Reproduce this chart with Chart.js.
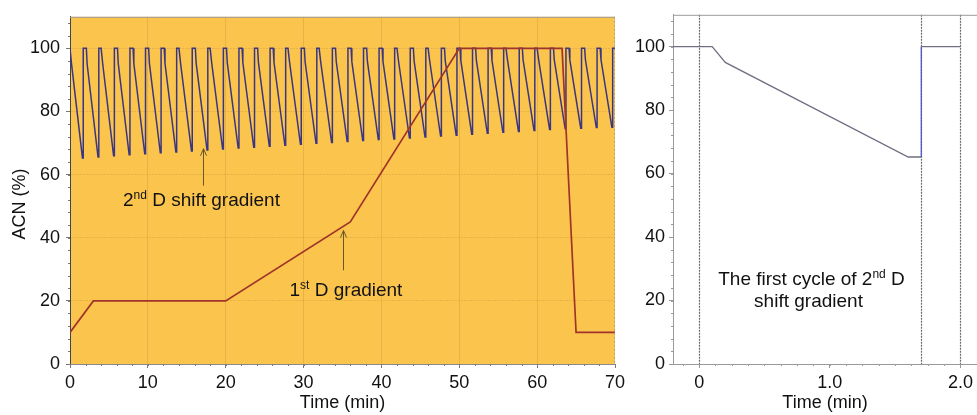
<!DOCTYPE html>
<html>
<head>
<meta charset="utf-8">
<script src="https://cdn.jsdelivr.net/npm/chart.js@4.4.1/dist/chart.umd.min.js"></script>
<style>
    html, body { margin: 0; padding: 0; background: #fff; }
    #wrap { position: relative; width: 977px; height: 415px; overflow: hidden; }
    canvas { position: absolute; top: 0; }
    #leftChart { left: 0; }
    #rightChart { left: 620px; }
</style>
</head>
<body>
<div id="wrap">
    <canvas id="leftChart" width="640" height="415"></canvas>
    <canvas id="rightChart" width="357" height="415"></canvas>
</div>
<script>
// 1st D gradient over the whole run
const firstTime = [0, 3, 20, 36, 50, 63.2, 65, 70];
const firstAcn = [10, 20, 20, 45, 100, 100, 10, 10];

// 2nd D shift gradient: a cycle every 2 min, lowest ACN read per cycle
const cycleStarts = [0, 2, 4, 6, 8, 10, 12, 14, 16, 18, 20, 22, 24, 26, 28, 30, 32, 34,
    36, 38, 40, 42, 44, 46, 48, 50, 52, 54, 56, 58, 60, 62, 64, 66, 68];
const cycleLows = [65.3, 65.6, 66, 66.3, 66.6, 66.9, 67.2, 67.5, 67.8, 68.1, 68.4, 68.7,
    69, 69.3, 69.6, 69.9, 70.2, 70.5, 70.8, 71.1, 71.3, 71.6, 71.9, 72.2, 72.5, 72.8,
    73.1, 73.4, 73.7, 74, 74.3, 74.5, 74.7, 74.9, 75];

// first cycle (right panel)
const cycleTime = [-0.2, 0.1, 0.2, 1.6, 1.7, 1.7, 2.0];
const cycleAcn = [100, 100, 95, 65.2, 65.2, 100, 100];
const cycleMarks = [0, 1.7, 2.0];

const leftXTicks = [0, 10, 20, 30, 40, 50, 60, 70];
const acnTicks = [0, 20, 40, 60, 80, 100];
const rightXTicks = [0, 1, 2];

const FONT = '"Liberation Sans", Arial, Helvetica, sans-serif';
Chart.defaults.font.family = FONT;
Chart.defaults.font.size = 18;
Chart.defaults.color = '#111';

function toPoints(xs, ys) {
    return xs.map((x, i) => ({ x, y: ys[i] }));
}

// repeat the first-cycle shape with each cycle's own low value
function shiftPoints() {
    const pts = [{ x: 0, y: 100 }];
    const depth = 100 - cycleAcn[3];
    cycleStarts.forEach((s, k) => {
        const f = (100 - cycleLows[k]) / depth;
        for (let i = 1; i < cycleTime.length; i++) {
            pts.push({ x: s + cycleTime[i], y: 100 - (100 - cycleAcn[i]) * f });
        }
    });
    return pts;
}

// plot background + frame
const plotBox = {
    id: 'plotBox',
    beforeDraw(chart, args, o) {
        const { ctx, chartArea: a } = chart;
        if (o.fill) {
            ctx.save();
            ctx.fillStyle = o.fill;
            ctx.fillRect(a.left, a.top, a.right - a.left, a.bottom - a.top);
            ctx.restore();
        }
    },
    afterDraw(chart, args, o) {
        const { ctx, chartArea: a } = chart;
        ctx.save();
        ctx.lineWidth = 1;
        ctx.strokeStyle = o.top || '#999';
        ctx.beginPath();
        ctx.moveTo(a.left, a.top + 0.5);
        ctx.lineTo(a.right, a.top + 0.5);
        ctx.stroke();
        if (o.right) {
            ctx.strokeStyle = o.right;
            ctx.setLineDash([2, 2]);
            ctx.beginPath();
            ctx.moveTo(a.right - 0.5, a.top);
            ctx.lineTo(a.right - 0.5, a.bottom);
            ctx.stroke();
        }
        ctx.restore();
    }
};

// small minor ticks on the axes
const minorTicks = {
    id: 'minorTicks',
    afterDraw(chart, args, o) {
        if (!o.xStep) return;
        const { ctx, chartArea: a, scales: { x, y } } = chart;
        ctx.save();
        ctx.strokeStyle = o.color || '#777';
        ctx.lineWidth = 1;
        ctx.beginPath();
        for (let v = Math.ceil(x.min / o.xStep) * o.xStep; v <= x.max + 1e-9; v += o.xStep) {
            const px = Math.round(x.getPixelForValue(v)) + 0.5;
            ctx.moveTo(px, a.bottom);
            ctx.lineTo(px, a.bottom + 2);
        }
        for (let v = 0; v <= y.max + 1e-9; v += o.yStep) {
            const py = Math.round(y.getPixelForValue(v)) + 0.5;
            ctx.moveTo(a.left, py);
            ctx.lineTo(a.left - 2, py);
        }
        ctx.stroke();
        ctx.restore();
    }
};

function supText(ctx, x, y, parts, align) {
    // parts: [text, isSup]
    const big = '19px ' + FONT, small = '12px ' + FONT;
    let w = 0;
    parts.forEach(p => { ctx.font = p[1] ? small : big; w += ctx.measureText(p[0]).width; });
    let cx = align === 'center' ? x - w / 2 : x;
    ctx.textAlign = 'left';
    ctx.textBaseline = 'middle';
    parts.forEach(p => {
        ctx.font = p[1] ? small : big;
        ctx.fillText(p[0], cx, p[1] ? y - 5 : y);
        cx += ctx.measureText(p[0]).width;
    });
}

function arrowUp(ctx, x, y0, y1) {
    ctx.save();
    ctx.strokeStyle = '#6a5726';
    ctx.lineWidth = 1;
    ctx.beginPath();
    ctx.moveTo(x, y0);
    ctx.lineTo(x, y1);
    ctx.moveTo(x - 3, y1 + 7);
    ctx.lineTo(x, y1);
    ctx.lineTo(x + 3, y1 + 7);
    ctx.stroke();
    ctx.restore();
}

const leftNotes = {
    id: 'leftNotes',
    afterDraw(chart) {
        const { ctx, scales: { x, y } } = chart;
        ctx.save();
        ctx.fillStyle = '#111';
        arrowUp(ctx, Math.round(x.getPixelForValue(17.1)) + 0.5, y.getPixelForValue(56.5), y.getPixelForValue(68.2));
        arrowUp(ctx, Math.round(x.getPixelForValue(35.1)) + 0.5, y.getPixelForValue(29.7), y.getPixelForValue(42.3));
        supText(ctx, x.getPixelForValue(6.8), y.getPixelForValue(51.6), [['2', false], ['nd', true], [' D shift gradient', false]]);
        supText(ctx, x.getPixelForValue(28.2), y.getPixelForValue(23.3), [['1', false], ['st', true], [' D gradient', false]]);
        // y axis title
        ctx.translate(20, 204);
        ctx.rotate(-Math.PI / 2);
        ctx.font = '18px ' + FONT;
        ctx.textAlign = 'center';
        ctx.textBaseline = 'middle';
        ctx.fillText('ACN (%)', 0, 0);
        ctx.restore();
    }
};

const rightNotes = {
    id: 'rightNotes',
    beforeDatasetsDraw(chart) {
        const { ctx, chartArea: a, scales: { x } } = chart;
        ctx.save();
        ctx.strokeStyle = '#6b6b6b';
        ctx.lineWidth = 1.2;
        ctx.setLineDash([2, 1]);
        cycleMarks.forEach(v => {
            const px = Math.round(x.getPixelForValue(v)) + 0.5;
            ctx.beginPath();
            ctx.moveTo(px, a.top);
            ctx.lineTo(px, a.bottom);
            ctx.stroke();
        });
        ctx.restore();
    },
    afterDraw(chart) {
        const { ctx, scales: { x, y } } = chart;
        ctx.save();
        ctx.fillStyle = '#111';
        const cx = x.getPixelForValue(0.86);
        supText(ctx, cx, y.getPixelForValue(26.5), [['The first cycle of 2', false], ['nd', true], [' D', false]], 'center');
        supText(ctx, cx - 3, y.getPixelForValue(19.7), [['shift gradient', false]], 'center');
        ctx.restore();
    }
};

const fixTicks = list => scale => { scale.ticks = list.map(v => ({ value: v })); };

new Chart(document.getElementById('leftChart'), {
    type: 'scatter',
    data: {
        datasets: [
            { label: '1st D gradient', data: toPoints(firstTime, firstAcn), showLine: true,
              borderColor: '#a0342a', borderWidth: 1.7, pointRadius: 0 },
            { label: '2nd D shift gradient', data: shiftPoints(), showLine: true,
              borderColor: '#3a3682', borderWidth: 1.5, pointRadius: 0 }
        ]
    },
    options: {
        responsive: false,
        animation: false,
        devicePixelRatio: 1,
        layout: { padding: { top: 16, right: 25, bottom: 0, left: 0 } },
        plugins: {
            legend: { display: false },
            tooltip: { enabled: false },
            plotBox: { fill: '#fbc54d', top: '#9a9a9a', right: '#b0a080' },
            minorTicks: { xStep: 2, yStep: 4, color: '#7a7a7a' }
        },
        scales: {
            x: {
                type: 'linear', min: 0, max: 70,
                afterBuildTicks: fixTicks(leftXTicks),
                afterFit: s => { s.height = 51; },
                grid: {
                    color: c => (c.tick.value > 0 && c.tick.value < 70) ? 'rgba(205,150,60,0.4)' : 'rgba(0,0,0,0)',
                    tickLength: 4, tickColor: '#777'
                },
                border: { color: '#8a8a8a' },
                ticks: { padding: 4, maxRotation: 0, color: '#111' },
                title: { display: true, text: 'Time (min)', padding: { top: 0, bottom: 1 } }
            },
            y: {
                min: 0, max: 110,
                afterBuildTicks: fixTicks(acnTicks),
                afterFit: s => { s.width = 70; },
                grid: {
                    color: c => c.tick.value > 0 ? 'rgba(205,150,60,0.4)' : 'rgba(0,0,0,0)',
                    tickLength: 4, tickColor: '#777'
                },
                border: { color: '#444', dash: [2, 1] },
                ticks: { padding: 6, color: '#111' }
            }
        }
    },
    plugins: [plotBox, minorTicks, leftNotes]
});

new Chart(document.getElementById('rightChart'), {
    type: 'scatter',
    data: {
        datasets: [
            { label: 'first cycle', data: toPoints(cycleTime, cycleAcn), showLine: true,
              borderWidth: 1.3, pointRadius: 0,
              borderColor: '#6f6f82',
              segment: { borderColor: c => c.p0.parsed.x === c.p1.parsed.x ? '#5656c8' : '#6f6f82' } }
        ]
    },
    options: {
        responsive: false,
        animation: false,
        devicePixelRatio: 1,
        layout: { padding: { top: 11, right: 0, bottom: 0, left: 0 } },
        plugins: {
            legend: { display: false },
            tooltip: { enabled: false },
            plotBox: { top: '#9a9a9a' },
            minorTicks: { xStep: 0.125, yStep: 4, color: '#9a9a9a' }
        },
        scales: {
            x: {
                type: 'linear', min: -0.2, max: 2.126,
                afterBuildTicks: fixTicks(rightXTicks),
                afterFit: s => { s.height = 51; },
                grid: { drawOnChartArea: false, tickLength: 4, tickColor: '#999' },
                border: { color: '#9a9a9a' },
                ticks: { padding: 4, maxRotation: 0, color: '#111',
                         callback: v => v === 0 ? '0' : v.toFixed(1) },
                title: { display: true, text: 'Time (min)', padding: { top: 0, bottom: 1 } }
            },
            y: {
                min: 0, max: 110,
                afterBuildTicks: fixTicks(acnTicks),
                afterFit: s => { s.width = 53; },
                grid: { drawOnChartArea: false, tickLength: 4, tickColor: '#999' },
                border: { color: '#9a9a9a' },
                ticks: { padding: 4, color: '#111' }
            }
        }
    },
    plugins: [plotBox, minorTicks, rightNotes]
});
</script>
</body>
</html>
